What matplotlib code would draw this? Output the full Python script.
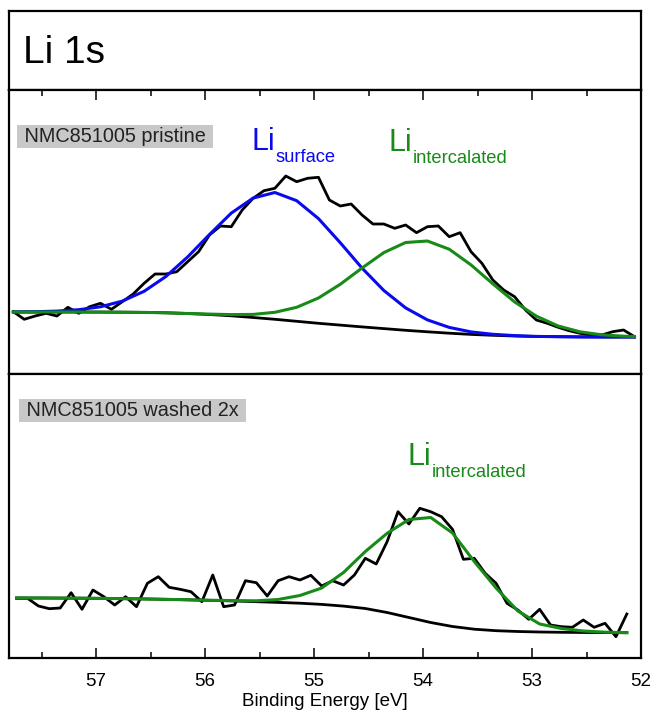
import matplotlib.pyplot as plt
from matplotlib.ticker import MultipleLocator

plt.rcParams['font.family'] = ['Liberation Sans', 'DejaVu Sans']

# --- pristine: measured spectrum (0.1 eV steps)
mid_energy = [57.76, 57.66, 57.56, 57.46, 57.36, 57.26, 57.16, 57.06, 56.96, 56.86,
              56.76, 56.66, 56.56, 56.46, 56.36, 56.26, 56.16, 56.06, 55.96, 55.86,
              55.76, 55.66, 55.56, 55.46, 55.36, 55.26, 55.16, 55.06, 54.96, 54.86,
              54.76, 54.66, 54.56, 54.46, 54.36, 54.26, 54.16, 54.06, 53.96, 53.86,
              53.76, 53.66, 53.56, 53.46, 53.36, 53.26, 53.16, 53.06, 52.96, 52.86,
              52.76, 52.66, 52.56, 52.46, 52.36, 52.26, 52.16, 52.06]
mid_counts = [62.3, 54.7, 58.0, 60.7, 58.0, 66.7, 60.7, 67.3, 70.7, 64.7,
              72.3, 80.0, 90.7, 100.0, 100.0, 102.3, 112.3, 122.3, 139.0, 148.0,
              147.3, 164.0, 175.7, 183.3, 185.7, 198.0, 192.3, 195.7, 196.7, 174.0,
              168.0, 170.0, 159.0, 150.0, 150.0, 145.7, 149.0, 141.3, 147.3, 148.0,
              137.3, 141.3, 122.3, 110.7, 94.0, 84.0, 77.3, 64.0, 54.0, 50.7,
              46.7, 43.3, 40.7, 39.0, 39.0, 42.3, 44.0, 37.3]

# pristine: fit curves
mid_fit_energy = [57.76, 57.56, 57.36, 57.16, 56.96, 56.76, 56.56, 56.36, 56.16, 55.96,
                  55.76, 55.56, 55.36, 55.16, 54.96, 54.76, 54.56, 54.36, 54.16, 53.96,
                  53.76, 53.56, 53.36, 53.16, 52.96, 52.76, 52.56, 52.36, 52.16, 52.06]
mid_background = [62.0, 62.0, 62.0, 62.0, 61.9, 61.8, 61.6, 61.2, 60.5, 59.5,
                  58.2, 56.5, 54.7, 52.7, 50.7, 48.9, 47.1, 45.4, 43.7, 42.2,
                  40.8, 39.6, 38.7, 38.0, 37.5, 37.3, 37.1, 37.0, 37.0, 37.0]
mid_surface = [62.1, 62.3, 62.9, 64.3, 67.2, 72.9, 82.7, 97.5, 117.1, 139.5,
               160.9, 175.9, 181.5, 173.3, 155.4, 131.3, 105.9, 83.5, 66.1, 54.1,
               46.6, 42.1, 39.7, 38.4, 37.6, 37.3, 37.1, 37.0, 37.0, 37.0]
mid_intercalated = [62.0, 62.0, 62.0, 62.0, 61.9, 61.8, 61.6, 61.2, 60.5, 59.9,
                    59.4, 59.6, 61.7, 66.7, 76.0, 89.7, 106.0, 121.4, 131.5, 133.0,
                    124.8, 109.1, 90.2, 72.1, 57.8, 48.0, 42.2, 39.2, 37.8, 37.5]

# --- washed 2x: measured spectrum
bot_energy = [57.73, 57.63, 57.53, 57.43, 57.33, 57.23, 57.13, 57.03, 56.93, 56.83,
              56.73, 56.63, 56.53, 56.43, 56.33, 56.23, 56.13, 56.03, 55.93, 55.83,
              55.73, 55.63, 55.53, 55.43, 55.33, 55.23, 55.13, 55.03, 54.93,
              54.83, 54.73, 54.63, 54.53, 54.43, 54.33, 54.23, 54.13, 54.03, 53.93,
              53.83, 53.73, 53.63, 53.53, 53.43, 53.33, 53.23, 53.13, 53.03, 52.93,
              52.83, 52.73, 52.63, 52.53, 52.43, 52.33, 52.23, 52.13]
bot_counts = [59.7, 59.7, 52.0, 49.3, 50.0, 65.3, 48.7, 68.0, 61.3, 53.0,
              61.3, 51.3, 74.7, 81.3, 70.7, 68.7, 66.3, 56.3, 83.0, 51.3,
              53.0, 77.3, 75.3, 62.0, 77.3, 81.3, 78.0, 82.7, 72.0,
              77.3, 73.0, 83.0, 99.7, 94.0, 116.3, 146.3, 134.0, 149.7, 146.3,
              141.3, 128.7, 98.7, 99.7, 84.7, 74.7, 54.7, 48.0, 38.7, 48.7,
              33.0, 31.3, 30.7, 38.0, 30.7, 34.7, 21.3, 44.0]

# washed 2x: fit curves
bot_fit_energy = [57.73, 57.53, 57.33, 57.13, 56.93, 56.73, 56.53, 56.33, 56.13, 55.93,
                  55.73, 55.53, 55.33, 55.13, 54.93, 54.73, 54.53, 54.33, 54.13, 53.93,
                  53.73, 53.53, 53.33, 53.13, 52.93, 52.73, 52.53, 52.33, 52.13]
bot_background = [60.0, 60.0, 59.9, 59.8, 59.6, 59.3, 59.0, 58.6, 58.1, 57.6,
                  57.0, 56.3, 55.6, 54.8, 53.6, 51.9, 49.5, 45.5, 40.5, 35.5,
                  31.5, 28.8, 27.3, 26.5, 26.0, 25.7, 25.5, 25.4, 25.3]
bot_intercalated = [60.0, 60.0, 59.9, 59.8, 59.6, 59.3, 59.0, 58.6, 58.1, 57.7,
                    57.4, 57.2, 58.5, 62.5, 70.0, 85.5, 106.5, 124.7, 138.5, 140.5,
                    125.0, 96.5, 70.0, 47.0, 34.0, 29.5, 27.0, 25.8, 25.3]

xticks_major = [57, 56, 55, 54, 53, 52]

blue = '#0a0aee'
green = '#178a17'
W, H = 654, 712

fig = plt.figure(figsize=(W / 100, H / 100), dpi=100)
ax_t = fig.add_axes([9 / W, 1 - 90 / H, 632 / W, 79 / H])
ax_m = fig.add_axes([9 / W, 1 - 374 / H, 632 / W, 284 / H])
ax_b = fig.add_axes([9 / W, 1 - 658 / H, 632 / W, 284 / H])

for ax in (ax_t, ax_m, ax_b):
    for s in ax.spines.values():
        s.set_linewidth(1.6)
    ax.set_yticks([])

ax_t.set_xticks([])
ax_t.text(0.022, 0.34, 'Li 1s', fontsize=28, transform=ax_t.transAxes, va='baseline')

for ax in (ax_m, ax_b):
    ax.set_xlim(57.8, 52)
    ax.set_ylim(0, 284)
    ax.xaxis.set_major_locator(MultipleLocator(1))
    ax.xaxis.set_minor_locator(MultipleLocator(0.5))
    ax.tick_params(axis='x', which='major', direction='in', length=7.5, width=1.1)
    ax.tick_params(axis='x', which='minor', direction='in', length=4, width=1.1)

ax_m.tick_params(axis='x', which='both', top=True, bottom=False, labelbottom=False)
ax_b.tick_params(axis='x', which='both', top=False, bottom=True, labelsize=13.5, pad=11)
ax_b.set_xticks(xticks_major)
ax_b.set_xticklabels([str(v) for v in xticks_major])
ax_b.set_xlabel('Binding Energy [eV]', fontsize=13.5, labelpad=2)


def peak_label(ax, x, y, sub, color):
    main = ax.text(x, y, 'Li', fontsize=22, color=color,
                   transform=ax.transAxes, va='baseline')
    ax.annotate(sub, xy=(1, 0), xycoords=main, xytext=(0.5, -3.5),
                textcoords='offset points', fontsize=13.2, color=color, va='baseline')


def sample_label(ax, x, y, text):
    ax.text(x, y, ' ' + text + ' ', fontsize=14.3, color='#222222',
            transform=ax.transAxes, va='baseline',
            bbox=dict(boxstyle='square,pad=0.1', fc='#c8c8c8', ec='none'))


# pristine panel
ax_m.plot(mid_energy, mid_counts, color='black', lw=2.0)
ax_m.plot(mid_fit_energy, mid_background, color='black', lw=2.0)
ax_m.plot(mid_fit_energy, mid_surface, color=blue, lw=2.2)
ax_m.plot(mid_fit_energy, mid_intercalated, color=green, lw=2.2)

sample_label(ax_m, 0.0158, 0.818, 'NMC851005 pristine')
peak_label(ax_m, 0.384, 0.789, 'surface', blue)
peak_label(ax_m, 0.600, 0.785, 'intercalated', green)

# washed panel
ax_b.plot(bot_energy, bot_counts, color='black', lw=2.0)
ax_b.plot(bot_fit_energy, bot_background, color='black', lw=2.0)
ax_b.plot(bot_fit_energy, bot_intercalated, color=green, lw=2.2)

sample_label(ax_b, 0.019, 0.853, 'NMC851005 washed 2x')
peak_label(ax_b, 0.631, 0.680, 'intercalated', green)

fig.savefig('out.png', dpi=100)
